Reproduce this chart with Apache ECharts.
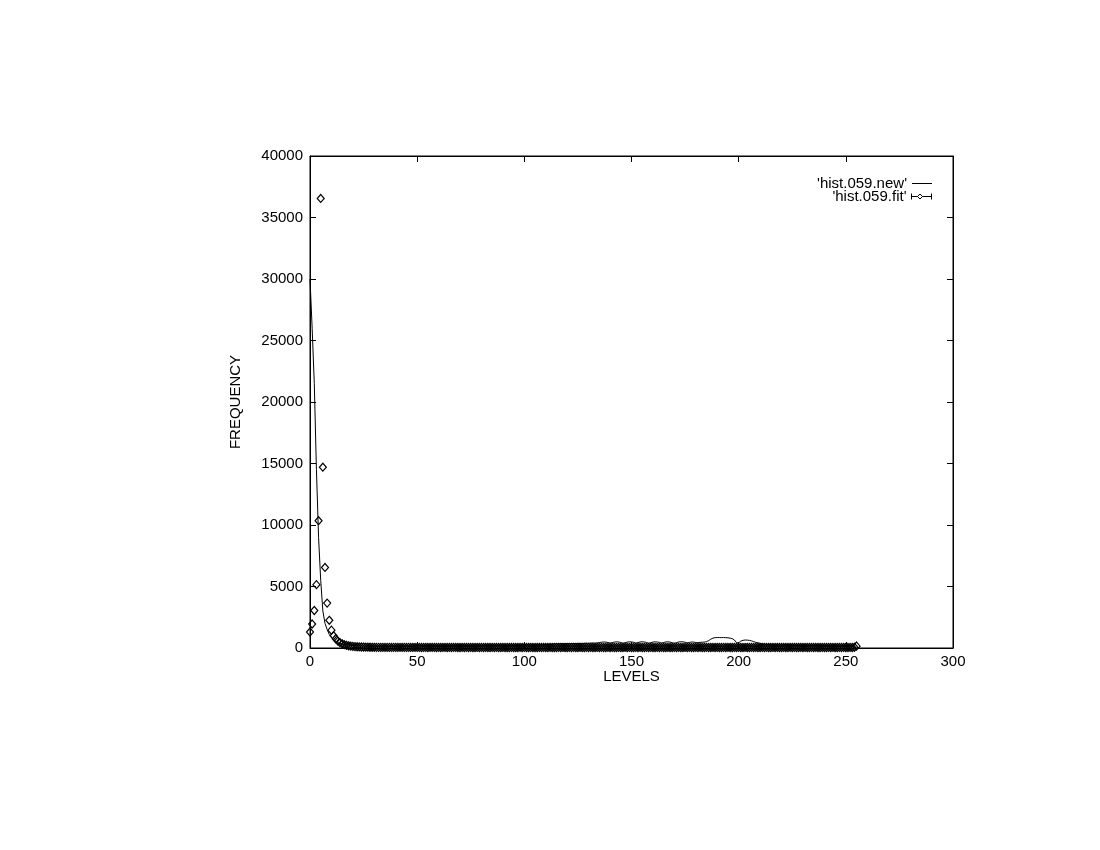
<!DOCTYPE html>
<html>
<head>
<meta charset="utf-8">
<title>hist.059</title>
<script src="https://cdn.jsdelivr.net/npm/echarts/dist/echarts.min.js"></script>
<style>
  html, body { margin: 0; padding: 0; background: #fff; }
  #main { width: 1100px; height: 850px; }
</style>
</head>
<body>
<div id="main"></div>
<script>
// levels run 0..255, one value per level (index of the array = level)
const newVals = [
  30000, 26000, 21500, 14500, 9000, 5500, 3000, 2000, 1500, 1100, 850, 680, 540, 440, 370, 320,
  280, 250, 225, 205, 190, 180, 175, 168, 172, 160, 165, 158, 170, 162, 155, 160,
  150, 158, 165, 152, 160, 148, 155, 170, 162, 150, 158, 175, 165, 180, 170, 160,
  175, 185, 200, 180, 170, 165, 178, 160, 172, 168, 180, 175, 165, 170, 185, 178,
  190, 180, 175, 185, 195, 180, 188, 200, 190, 185, 195, 205, 190, 198, 210, 200,
  195, 205, 215, 200, 210, 220, 205, 215, 225, 210, 220, 230, 215, 225, 235, 220,
  230, 240, 225, 235, 245, 250, 240, 255, 260, 250, 265, 270, 260, 275, 280, 290,
  300, 310, 320, 330, 340, 350, 345, 355, 360, 350, 365, 370, 360, 375, 380, 370,
  385, 390, 380, 400, 410, 395, 420, 440, 470, 490, 480, 450, 400, 440, 480, 500,
  490, 450, 390, 430, 480, 500, 495, 460, 400, 440, 490, 505, 490, 450, 390, 430,
  480, 500, 490, 460, 400, 450, 490, 500, 480, 430, 390, 440, 490, 510, 500, 470,
  420, 450, 490, 480, 440, 430, 460, 470, 480, 520, 600, 720, 800, 840, 850, 850,
  845, 850, 840, 830, 800, 760, 650, 430, 420, 560, 620, 650, 640, 620, 580, 520,
  460, 420, 380, 330, 300, 280, 270, 260, 265, 250, 255, 245, 250, 240, 245, 235,
  240, 230, 235, 225, 230, 220, 225, 215, 220, 210, 215, 205, 210, 200, 205, 195,
  200, 190, 195, 185, 190, 180, 185, 175, 180, 170, 175, 165, 170, 160, 250, 520
];

const fitVals = [
  1300, 1950, 3050, 5150, 10350, 36550, 14700, 6550, 3650, 2250, 1450, 1000, 750, 560, 430, 340,
  270, 220, 180, 150, 130, 115, 100, 90, 82, 76, 70, 66, 62, 58, 55, 52,
  50, 48, 52, 47, 50, 49, 46, 51, 48, 45, 50, 47, 49, 46, 48, 45,
  47, 44, 48, 46, 43, 47, 45, 42, 46, 44, 47, 43, 45, 42, 46, 44,
  43, 45, 42, 44, 46, 43, 41, 45, 43, 44, 42, 45, 43, 41, 44, 42,
  44, 42, 45, 43, 41, 44, 42, 45, 43, 40, 44, 42, 43, 41, 45, 42,
  43, 41, 44, 42, 45, 43, 40, 44, 42, 43, 41, 44, 42, 45, 43, 41,
  44, 42, 43, 41, 45, 42, 44, 43, 41, 44, 42, 45, 43, 41, 44, 42,
  43, 45, 42, 44, 41, 43, 45, 42, 44, 43, 41, 44, 42, 45, 43, 41,
  44, 42, 43, 45, 41, 44, 42, 43, 45, 42, 44, 41, 43, 45, 42, 44,
  43, 41, 44, 42, 45, 43, 41, 44, 42, 43, 45, 42, 44, 41, 43, 45,
  42, 44, 43, 41, 44, 42, 45, 43, 41, 44, 42, 43, 45, 42, 44, 41,
  43, 45, 42, 44, 43, 41, 44, 42, 45, 43, 41, 44, 42, 43, 45, 42,
  44, 41, 43, 45, 42, 44, 43, 41, 44, 42, 45, 43, 41, 44, 42, 43,
  45, 42, 44, 41, 43, 45, 42, 44, 43, 41, 44, 42, 45, 43, 41, 44,
  42, 43, 45, 42, 44, 41, 43, 45, 42, 44, 43, 41, 44, 42, 60, 150
];

const xTicks = { min: 0, max: 300, step: 50 };
const yTicks = { min: 0, max: 40000, step: 5000 };

const FONT = "'Liberation Sans', Arial, Helvetica, sans-serif";

var myChart = echarts.init(document.getElementById('main'));

// gnuplot style: box border, ticks pointing inwards on all four sides
function axisCommon(show, margin) {
  return {
    axisLine: { show: true, onZero: false, lineStyle: { color: '#000', width: 1 } },
    axisTick: { show: true, inside: true, length: 6, lineStyle: { color: '#000' } },
    splitLine: { show: false },
    axisLabel: {
      show: show, color: '#000', fontSize: 15, fontFamily: FONT, margin: margin,
      formatter: v => String(v)
    }
  };
}

let option = {
  animation: false,
  backgroundColor: '#fff',
  grid: {
    left: 310, right: 147, top: 156, bottom: 202,
    show: true, borderColor: '#000', borderWidth: 1, backgroundColor: 'transparent'
  },
  legend: [
    {
      data: ['hist.059.new'],
      right: 163, top: 171,
      align: 'right',
      icon: 'rect',
      itemWidth: 20, itemHeight: 1,
      selectedMode: false,
      itemStyle: { color: '#000', borderWidth: 0 },
      textStyle: { color: '#000', fontSize: 15, fontFamily: FONT },
      formatter: n => "'" + n + "'"
    },
    {
      data: ['hist.059.fit'],
      right: 163, top: 184,
      align: 'right',
      // errorbar + diamond symbol like gnuplot's key
      icon: 'path://M0,0 L0,6 M0,3 L6,3 M6,3 L8.5,0.5 L11,3 L8.5,5.5 Z M11,3 L20,3 M20,0 L20,6',
      itemWidth: 20, itemHeight: 6,
      selectedMode: false,
      itemStyle: { color: 'rgba(0,0,0,0)', borderColor: '#000', borderWidth: 1 },
      textStyle: { color: '#000', fontSize: 15, fontFamily: FONT },
      formatter: n => "'" + n + "'"
    }
  ],
  xAxis: [
    Object.assign({
      type: 'value', position: 'bottom',
      min: xTicks.min, max: xTicks.max, interval: xTicks.step,
      name: 'LEVELS', nameLocation: 'middle', nameGap: 21, nameMoveOverlap: false,
      nameTextStyle: { color: '#000', fontSize: 15, fontFamily: FONT }
    }, axisCommon(true, 6)),
    Object.assign({
      type: 'value', position: 'top',
      min: xTicks.min, max: xTicks.max, interval: xTicks.step
    }, axisCommon(false, 6))
  ],
  yAxis: [
    Object.assign({
      type: 'value', position: 'left',
      min: yTicks.min, max: yTicks.max, interval: yTicks.step,
      name: 'FREQUENCY', nameLocation: 'middle', nameGap: 67,
      nameTextStyle: { color: '#000', fontSize: 15, fontFamily: FONT }
    }, axisCommon(true, 7)),
    Object.assign({
      type: 'value', position: 'right',
      min: yTicks.min, max: yTicks.max, interval: yTicks.step
    }, axisCommon(false, 7))
  ],
  series: [
    {
      name: 'hist.059.new',
      type: 'line',
      xAxisIndex: 0, yAxisIndex: 0,
      data: newVals.map((v, i) => [i, v]),
      showSymbol: false,
      symbol: 'none',
      lineStyle: { color: '#000', width: 1 },
      itemStyle: { color: '#000' },
      z: 2
    },
    {
      name: 'hist.059.fit',
      type: 'scatter',
      xAxisIndex: 0, yAxisIndex: 0,
      data: fitVals.map((v, i) => [i, v]),
      symbol: 'diamond',
      symbolSize: [7, 8],
      itemStyle: { color: 'rgba(0,0,0,0)', borderColor: '#000', borderWidth: 1.2, opacity: 1 },
      z: 3
    }
  ]
};

myChart.setOption(option);
</script>
</body>
</html>
